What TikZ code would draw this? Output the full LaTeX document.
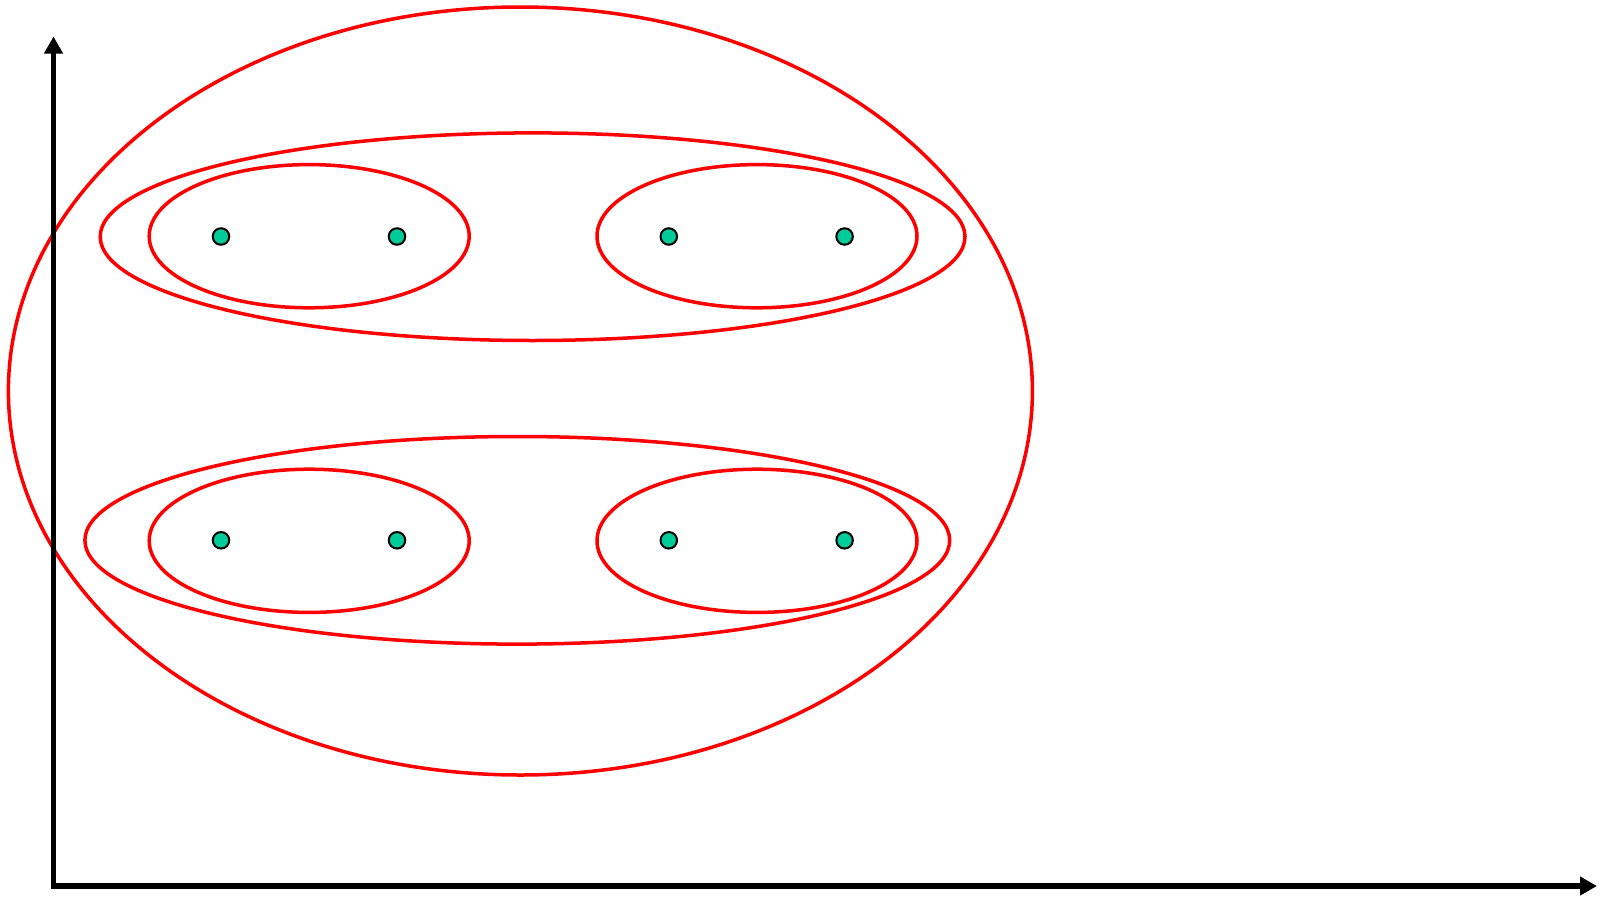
\documentclass[tikz,border=0pt]{standalone}
\usetikzlibrary{arrows.meta}
\definecolor{dotgreen}{RGB}{0,204,153}
\definecolor{ringred}{RGB}{255,0,0}
\begin{document}
\begin{tikzpicture}[x=1pt,y=-1pt,
  ring/.style={draw=ringred,line width=3.5pt},
  pt/.style={circle,draw=black,fill=dotgreen,line width=2pt,minimum size=16.5pt,inner sep=0pt},
  axis/.style={line width=5.5pt,-{Triangle[length=17pt,width=18pt]}}]
\useasboundingbox (0,0) rectangle (1603,897);
% outer ellipse
\draw[ring] (520.4,391) ellipse [x radius=512,y radius=384];
% medium ellipses
\draw[ring] (532.6,236.7) ellipse [x radius=432.4,y radius=103.8];
\draw[ring] (517.3,540.3) ellipse [x radius=432.4,y radius=103.8];
% small ellipses
\draw[ring] (309.2,236.2) ellipse [x radius=160,y radius=71.6];
\draw[ring] (757,236.2) ellipse [x radius=160,y radius=71.6];
\draw[ring] (309.2,540.8) ellipse [x radius=160,y radius=71.6];
\draw[ring] (757,540.8) ellipse [x radius=160,y radius=71.6];
% axes
\coordinate (o) at (53.5,886);
\coordinate (ytip) at (53.5,36.5);
\coordinate (xtip) at (1597,886);
\draw[axis] ([yshift=-2.75pt]o) -- (ytip);
\draw[axis] ([xshift=-2.75pt]o) -- (xtip);
% points
\node[pt] (p1) at (221,236.5) {};
\node[pt] (p2) at (397,236.5) {};
\node[pt] (p3) at (668.8,236.5) {};
\node[pt] (p4) at (844.6,236.5) {};
\node[pt] (p5) at (221,540.3) {};
\node[pt] (p6) at (397,540.3) {};
\node[pt] (p7) at (668.8,540.3) {};
\node[pt] (p8) at (844.6,540.3) {};
\end{tikzpicture}
\end{document}
